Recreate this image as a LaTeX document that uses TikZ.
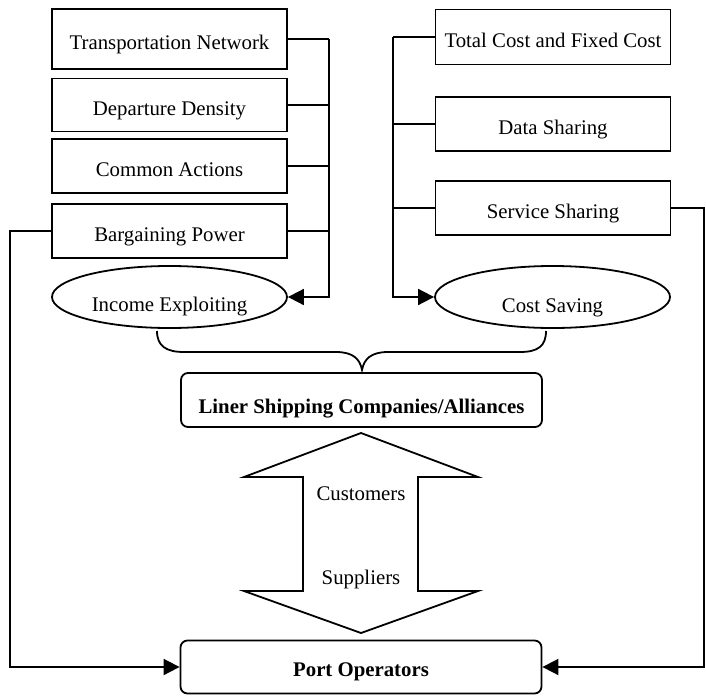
\documentclass[tikz,border=0pt]{standalone}
\usepackage{fontspec}
\setmainfont{Liberation Serif}
\usetikzlibrary{arrows.meta,shapes.geometric}
\begin{document}
\begin{tikzpicture}[x=1pt,y=-1pt,
  every node/.style={font=\fontsize{20.8}{24}\selectfont},
  factor/.style={draw,line width=1.8pt,minimum width=235pt,inner sep=0pt,text height=24pt,text depth=4pt},
  goal/.style={draw,ellipse,line width=1.8pt,minimum width=235pt,minimum height=62pt,inner sep=0pt},
  party/.style={draw,rounded corners=7pt,line width=1.8pt,minimum width=361pt,minimum height=54pt,inner sep=0pt,text depth=4pt,font=\fontsize{20.8}{24}\selectfont\bfseries},
  link/.style={line width=1.8pt},
  arr/.style={line width=1.8pt,-{Triangle[length=16pt,width=16pt]}},
  lbl/.style={inner sep=0pt}
]
\useasboundingbox (0,0) rectangle (706,696);

% income side
\node[factor,minimum height=60pt] (tn) at (169.5,39) {Transportation Network};
\node[factor,minimum height=53pt] (dd) at (169.5,105) {Departure Density};
\node[factor,minimum height=54pt] (ca) at (169.5,166) {Common Actions};
\node[factor,minimum height=54pt] (bp) at (169.5,231) {Bargaining Power};
\node[goal] (ie) at (169.5,297) {};
\node[lbl] (iet) at (169.5,307) {Income Exploiting};

% cost side
\node[factor,minimum height=55pt] (tc) at (553,37) {Total Cost and Fixed Cost};
\node[factor,minimum height=54pt] (ds) at (553,124) {Data Sharing};
\node[factor,minimum height=54pt] (ss) at (553,208) {Service Sharing};
\node[goal] (cs) at (552.5,297) {};
\node[lbl] (cst) at (552.5,308) {Cost Saving};

% the two parties
\node[party,text height=31pt] (lsc) at (361.5,400) {Liner Shipping Companies/Alliances};
\node[party,text height=23pt,minimum height=53pt] (po) at (361,667) {Port Operators};

% income bus
\coordinate (ib) at (329,297);
\draw[link] (tn.east) -- (tn.east -| ib);
\draw[link] (dd.east) -- (dd.east -| ib);
\draw[link] (ca.east) -- (ca.east -| ib);
\draw[link] (bp.east) -- (bp.east -| ib);
\draw[arr] (tn.east -| ib) -- (ib) -- (ie.east);

% cost bus
\coordinate (cb) at (393,297);
\draw[link] (tc.west) -- (tc.west -| cb);
\draw[link] (ds.west) -- (ds.west -| cb);
\draw[link] (ss.west) -- (ss.west -| cb);
\draw[arr] (tc.west -| cb) -- (cb) -- (cs.west);

% brace joining both goals
\draw[link] (157,331) .. controls (157,346) and (166,352) .. (184,352)
  -- (336,352) .. controls (353,352) and (360,359) .. (362,370)
  .. controls (364,359) and (371,352) .. (388,352)
  -- (520,352) .. controls (538,352) and (546,346) .. (546,331);

% double arrow between the parties
\draw[link,line join=miter] (361,433) -- (478,477) -- (418,477) -- (418,591) -- (478,591)
  -- (361,633) -- (244,591) -- (303,591) -- (303,477) -- (244,477) -- cycle;
\node[lbl] (cu) at (361,494) {Customers};
\node[lbl] (su) at (361,579) {Suppliers};

% feedback lines to the port operators
\coordinate (lf) at (10,667);
\coordinate (rf) at (704,667);
\draw[arr] (bp.west) -| (lf) -- (po.west);
\draw[arr] (ss.east) -| (rf) -- (po.east);
\end{tikzpicture}
\end{document}
